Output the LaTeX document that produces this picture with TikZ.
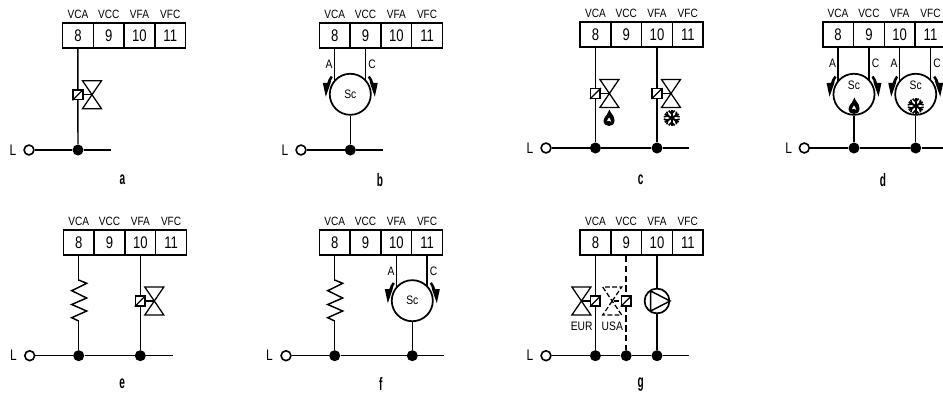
\documentclass[tikz,border=0pt]{standalone}
\usepackage{fontspec}
\setmainfont{Liberation Sans}
\newfontfamily\numf[FakeStretch=0.78]{Liberation Sans}
\newfontfamily\labf[FakeStretch=0.84]{Liberation Sans}
\newfontfamily\capf[FakeStretch=0.56]{Liberation Sans Bold}
\begin{document}
\begin{tikzpicture}[x=0.75pt,y=-0.75pt,
  wire/.style={line width=1.1pt,black},
  dwire/.style={line width=1.1pt,black,dash pattern=on 5pt off 2.4pt},
  cell/.style={draw,line width=1.15pt,minimum width=23.06pt,minimum height=18.75pt,inner sep=0pt,font=\numf\fontsize{12.6pt}{12.6pt}\selectfont},
  termlabel/.style={anchor=base,inner sep=0pt,font=\labf\fontsize{9pt}{9pt}\selectfont},
  dotn/.style={circle,fill=black,inner sep=0pt,minimum size=8.3pt},
  lcirc/.style={circle,draw,line width=1.2pt,fill=white,inner sep=0pt,minimum size=7.4pt},
  ltext/.style={inner sep=0pt,font=\numf\fontsize{11.5pt}{11.5pt}\selectfont},
  letter/.style={inner sep=0pt,font=\capf\fontsize{13.5pt}{13.5pt}\selectfont},
  sc/.style={circle,draw,line width=1.3pt,fill=white,inner sep=0pt,minimum size=30.8pt},
  small/.style={inner sep=0pt,font=\labf\fontsize{9.2pt}{9.2pt}\selectfont},
  solbox/.style={draw,line width=1.1pt,fill=white,inner sep=0pt,minimum size=7.2pt},
  valveline/.style={line width=0.95pt},
  vdash/.style={},
  termblock/.pic={
    \node[cell] (t8)  at (15.4,12.5) {8};
    \node[cell] (t9)  at (46.2,12.5) {9};
    \node[cell] (t10) at (77,12.5) {10};
    \node[cell] (t11) at (107.8,12.5) {11};
    \node[termlabel] (l8)  at (15.4,-4.5) {VCA};
    \node[termlabel] (l9)  at (46.2,-4.5) {VCC};
    \node[termlabel] (l10) at (77,-4.5) {VFA};
    \node[termlabel] (l11) at (107.8,-4.5) {VFC};
  },
  valve/.pic={
    \draw[valveline,vdash] (0,0) -- (#1*14,0);
    \draw[valveline,vdash] (#1*14,0) -- (#1*4.5,-14) -- (#1*23.5,-14) -- (#1*4.5,14) -- (#1*23.5,14) -- cycle;
    \node[solbox] (box) at (0,0) {};
    \draw[line width=0.95pt] (box.south west) -- (box.north east);
  },
  arrowl/.pic={
    \fill[black] (-19.5,-18.5) .. controls (-21.5,-16) and (-22.5,-13.5) .. (-23,-11.5)
      -- (-27.5,-11.5) -- (-24.5,2.4) -- (-19.8,-11) .. controls (-20,-13) and (-19,-15) .. (-17.5,-17) -- cycle;
  },
  arrowr/.pic={
    \fill[black] (19.5,-18.5) .. controls (21.5,-16) and (22.5,-13.5) .. (23,-11.5)
      -- (27.5,-11.5) -- (24.5,2.4) -- (19.8,-11) .. controls (20,-13) and (19,-15) .. (17.5,-17) -- cycle;
  },
  flame/.pic={
    \fill[black] (0.5,-8.5) .. controls (1,-5) and (5.5,-3) .. (5.5,2.5)
      .. controls (5.5,6.5) and (2.5,8) .. (0,8) .. controls (-3,8) and (-5.5,6) .. (-5.5,2.5)
      .. controls (-5.5,-0.5) and (-3,-1.5) .. (-2,-3.5) .. controls (-1.5,-5) and (-0.5,-6.5) .. (0.5,-8.5) -- cycle;
    \fill[white] (0,-0.5) .. controls (0.5,1) and (2.5,2) .. (2.2,3.8)
      .. controls (1.5,2.5) and (-1,2.5) .. (-2,3.2) .. controls (-2,1.5) and (-0.5,1) .. (0,-0.5) -- cycle;
  },
  snow/.pic={
    \foreach \a in {0,60,...,300}{
      \begin{scope}[rotate=\a]
        \draw[line width=1.5pt] (0,0) -- (0,-8);
        \draw[line width=1.2pt] (-3,-7.4) -- (0,-4.4) -- (3,-7.4);
      \end{scope}}
  },
  resist/.pic={
    \draw[wire,line join=miter] (0,0) -- (8,3.3) -- (-7,10.7) -- (8,18) -- (-7,24.5) -- (8,31) -- (-7,37.7) -- (0,41);
  }
]
\clip (0,0) rectangle (943,393);
\fill[white] (0,0) rectangle (943,393);

% ---------- a
\pic (a) at (62.5,23) {termblock};
\node[ltext] (aLt) at (13,150) {L};
\node[lcirc] (aL) at (29,150) {};
\node[dotn] (ad1) at (78,150) {};
\coordinate (aE) at (110.7,150);
\draw[wire] (aL) -- (ad1) -- (aE);
\draw[wire] (at8.south) -- (ad1);
\pic at (78,94.7) {valve={1}};
\node[letter] (acap) at (122.5,180) {a};

% ---------- b
\pic (b) at (319.3,23) {termblock};
\node[ltext] (bLt) at (285,150) {L};
\node[lcirc] (bL) at (301,150) {};
\node[dotn] (bd1) at (350.3,150) {};
\coordinate (bE) at (383,150);
\draw[wire] (bL) -- (bd1) -- (bE);
\draw[wire] (bt8.south) -- ++(0,45);
\draw[wire] (bt9.south) -- ++(0,45);
\node[sc] (bs) at (350.3,94.3) {};
\node[small] (bst) at (350.3,94.3) {Sc};
\draw[wire] (bs) -- (bd1);
\pic at (bs.center) {arrowl};
\pic at (bs.center) {arrowr};
\node[small] (bA) at (329,64) {A};
\node[small] (bC) at (372,64) {C};
\node[letter] (bcap) at (380,180) {b};

% ---------- c
\pic (c) at (580,22) {termblock};
\node[ltext] (cLt) at (530,148) {L};
\node[lcirc] (cL) at (546,148) {};
\node[dotn] (cd1) at (595.4,148) {};
\node[dotn] (cd2) at (657,148) {};
\coordinate (cE) at (689.3,148);
\draw[wire] (cL) -- (cd1) -- (cd2) -- (cE);
\draw[wire] (ct8.south) -- (cd1);
\draw[wire] (ct10.south) -- (cd2);
\pic at (595.4,93.5) {valve={1}};
\pic at (657,93.5) {valve={1}};
\pic at (609,118) {flame};
\pic at (671.7,118) {snow};
\node[letter] (ccap) at (640.7,180) {c};

% ---------- d
\pic (d) at (822.7,22) {termblock};
\node[ltext] (dLt) at (788.7,148) {L};
\node[lcirc] (dL) at (804.3,148) {};
\node[dotn] (dd1) at (854,148) {};
\node[dotn] (dd2) at (915.7,148) {};
\coordinate (dE) at (950,148);
\draw[wire] (dL) -- (dd1) -- (dd2) -- (dE);
\draw[wire] (dt8.south) -- ++(0,45);
\draw[wire] (dt9.south) -- ++(0,45);
\draw[wire] (dt10.south) -- ++(0,45);
\draw[wire] (dt11.south) -- ++(0,45);
\node[sc] (ds1) at (854,94.3) {};
\node[sc] (ds2) at (915.7,94.3) {};
\node[small] (ds1t) at (854,85) {Sc};
\node[small] (ds2t) at (915.7,85) {Sc};
\draw[wire] (ds1) -- (dd1);
\draw[wire] (ds2) -- (dd2);
\pic at (ds1.center) {arrowl};
\pic at (ds1.center) {arrowr};
\pic at (ds2.center) {arrowl};
\pic at (ds2.center) {arrowr};
\pic at (854,106) {flame};
\pic at (915.7,106) {snow};
\node[small] (dA1) at (832.5,63) {A};
\node[small] (dC1) at (875.5,63) {C};
\node[small] (dA2) at (894,63) {A};
\node[small] (dC2) at (937,63) {C};
\node[letter] (dcap) at (883,180) {d};

% ---------- e
\pic (e) at (63.3,230) {termblock};
\node[ltext] (eLt) at (13.5,355.7) {L};
\node[lcirc] (eL) at (29.7,355.7) {};
\node[dotn] (ed1) at (78.7,355.7) {};
\node[dotn] (ed2) at (140.3,355.7) {};
\coordinate (eE) at (173,355.7);
\draw[wire] (eL) -- (ed1) -- (ed2) -- (eE);
\draw[wire] (et8.south) -- ++(0,25);
\draw[wire] (ed1) -- ++(0,-35);
\pic at (78.7,280) {resist};
\draw[wire] (et10.south) -- (ed2);
\pic at (140.3,301) {valve={1}};
\node[letter] (ecap) at (122.3,384) {e};

% ---------- f
\pic (f) at (319.3,230) {termblock};
\node[ltext] (fLt) at (269.5,355.7) {L};
\node[lcirc] (fL) at (286,355.7) {};
\node[dotn] (fd1) at (334.7,355.7) {};
\node[dotn] (fd2) at (412.3,355.7) {};
\coordinate (fE) at (444.3,355.7);
\draw[wire] (fL) -- (fd1) -- (fd2) -- (fE);
\draw[wire] (ft8.south) -- ++(0,25);
\draw[wire] (fd1) -- ++(0,-35);
\pic at (334.7,280) {resist};
\draw[wire] (ft10.south) -- ++(0,45);
\draw[wire] (ft11.south) -- ++(0,45);
\node[sc] (fs) at (412.3,300.7) {};
\node[small] (fst) at (412.3,300.7) {Sc};
\draw[wire] (fs) -- (fd2);
\pic at (fs.center) {arrowl};
\pic at (fs.center) {arrowr};
\node[small] (fA) at (391,271) {A};
\node[small] (fC) at (433.7,271) {C};
\node[letter] (fcap) at (380.7,384) {f};

% ---------- g
\pic (g) at (580,230) {termblock};
\node[ltext] (gLt) at (530,355.7) {L};
\node[lcirc] (gL) at (546,355.7) {};
\node[dotn] (gd1) at (595.4,355.7) {};
\node[dotn] (gd2) at (626.2,355.7) {};
\node[dotn] (gd3) at (657,355.7) {};
\coordinate (gE) at (689.3,355.7);
\draw[wire] (gL) -- (gd1) -- (gd2) -- (gd3) -- (gE);
\draw[wire] (gt8.south) -- (gd1);
\draw[dwire] (gt9.south) -- (gd2);
\draw[wire] (gt10.south) -- (gd3);
\pic at (595.4,301) {valve={-1}};
\pic[vdash/.style={dash pattern=on 3.6pt off 1.8pt}] at (626.2,301) {valve={-1}};
\node[circle,draw,line width=1.3pt,fill=white,inner sep=0pt,minimum size=18.6pt] (gp) at (657,301) {};
\draw[line width=1.1pt] (650.7,291) -- (670,301) -- (650.7,311) -- cycle;
\node[small] (gEUR) at (581.7,326) {EUR};
\node[small] (gUSA) at (612.3,326) {USA};
\node[letter] (gcap) at (640.7,385) {g};
\end{tikzpicture}
\end{document}
